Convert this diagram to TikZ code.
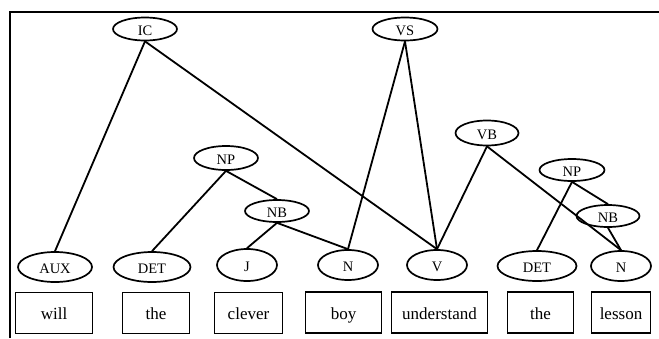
\documentclass[tikz,border=0pt]{standalone}
\usepackage{fontspec}
\setmainfont{Liberation Serif}
\usetikzlibrary{shapes.geometric}
\begin{document}
\begin{tikzpicture}[x=1pt,y=-1pt,
  phrase/.style={draw,ellipse,line width=1.7pt,inner sep=0pt,
    minimum width=64pt,minimum height=23pt,text height=12pt,text depth=0pt,
    font=\fontsize{14.5}{16}\selectfont},
  tag/.style={phrase,minimum height=30pt},
  word/.style={draw,rectangle,line width=1.7pt,inner sep=0pt,
    minimum height=41pt,text height=13pt,text depth=0pt,
    font=\fontsize{17}{19}\selectfont},
  link/.style={line width=1.8pt}]
\useasboundingbox (0,0) rectangle (659,338);
% frame
\draw[line width=1.8pt] (10,338) -- (10,12) -- (659,12);

% phrase nodes
\node[phrase] (ic)  at (145,29)  {IC};
\node[phrase,minimum width=65pt] (vs)  at (405,29)  {VS};
\node[phrase,minimum width=63pt,minimum height=25pt] (vb)  at (487,133) {VB};
\node[phrase,minimum height=24pt] (np1) at (226,158) {NP};
\node[phrase,minimum height=22pt] (nb1) at (277,211) {NB};
\node[phrase,minimum width=65pt,minimum height=22pt] (np2) at (572,170) {NP};
\node[phrase,minimum width=63pt,minimum height=22pt] (nb2) at (608,216) {NB};

% word-class nodes
\node[tag,minimum width=74pt] (aux)  at (55,267)  {AUX};
\node[tag,minimum width=77pt] (det1) at (152,267) {DET};
\node[tag,minimum width=60pt,minimum height=32pt] (j) at (247,265) {J};
\node[tag,minimum width=60pt] (n1)   at (348,265) {N};
\node[tag,minimum width=60pt] (v)    at (437,265) {V};
\node[tag,minimum width=79pt] (det2) at (537,266) {DET};
\node[tag,minimum width=60pt] (n2)   at (621,266) {N};

% words
\node[word,minimum width=77pt] (w1) at (54,313)  {will};
\node[word,minimum width=67pt] (w2) at (156,313) {the};
\node[word,minimum width=68pt] (w3) at (248.5,313) {clever};
\node[word,minimum width=76pt] (w4) at (343.5,312.5) {boy};
\node[word,minimum width=96pt] (w5) at (439.5,312.5) {understand};
\node[word,minimum width=66pt] (w6) at (540.5,312.5) {the};
\node[word,minimum width=59pt] (w7) at (621,312.5) {lesson};

% tree edges
\draw[link] (ic.south)  -- (aux.north);
\draw[link] (ic.south)  -- (v.north);
\draw[link] (vs.south)  -- (n1.north);
\draw[link] (vs.south)  -- (v.north);
\draw[link] (vb.south)  -- (v.north);
\draw[link] (vb.south)  -- (n2.north);
\draw[link] (np1.south) -- (det1.north);
\draw[link] (np1.south) -- (nb1.north);
\draw[link] (nb1.south) -- (j.north);
\draw[link] (nb1.south) -- (n1.north);
\draw[link] (np2.south) -- (det2.north);
\draw[link] (np2.south) -- (nb2.north);
\draw[link] (nb2.south) -- (n2.north);
\end{tikzpicture}
\end{document}
